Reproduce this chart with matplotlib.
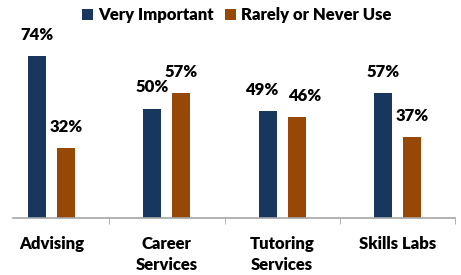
import numpy as np
import matplotlib.pyplot as plt

categories = ['Advising', 'Career\nServices', 'Tutoring\nServices', 'Skills Labs']
very_important = [74, 50, 49, 57]
rarely_use = [32, 57, 46, 37]

navy = '#17375E'
brown = '#974706'
font = 'Lato'
weight = 'heavy'
# small sideways nudges (points) where Excel moved labels apart
nudge_vi = [0, 0, -4.5, 0]
nudge_rn = [0, 0, 6, 0]

fig = plt.figure(figsize=(4.61, 2.75), dpi=100)
ax = fig.add_axes([13 / 461, 57 / 275, 442 / 461, 219 / 275])

x = np.arange(len(categories))
w = 0.156
off = 0.1255
b1 = ax.bar(x - off, very_important, w, color=navy, label='Very Important')
b2 = ax.bar(x + off, rarely_use, w, color=brown, label='Rarely or Never Use')

for bars, vals, nud in [(b1, very_important, nudge_vi), (b2, rarely_use, nudge_rn)]:
    for b, v, n in zip(bars, vals, nud):
        ax.annotate(f'{v}%', (b.get_x() + b.get_width() / 2, v + 9.6), xytext=(n, 0),
                    textcoords='offset points', ha='center', va='center',
                    fontsize=12, fontweight=weight, family=font, annotation_clip=False)

ax.set_yticks([])
ax.set_xticks(np.arange(len(categories) + 1) - 0.5, minor=True)
ax.set_xticks(x)
ax.set_xticklabels(categories, fontsize=12, fontweight=weight, family=font, linespacing=1.35)
ax.tick_params(axis='x', which='major', length=0, pad=13)
ax.tick_params(axis='x', which='minor', length=4, color='#A6A6A6', direction='out')
ax.set_xlim(-0.5 + 19 / 115.5, 3.5)
ax.set_ylim(0, 100)
for s in ['top', 'right', 'left']:
    ax.spines[s].set_visible(False)
ax.spines['bottom'].set_color('#A6A6A6')
ax.spines['bottom'].set_linewidth(1.2)

fig.legend(handles=[b1, b2], loc='center', bbox_to_anchor=(237 / 461, 1 - 15 / 275), ncol=2,
           frameon=False, prop={'family': font, 'weight': weight, 'size': 12},
           handlelength=0.65, handleheight=0.65, handletextpad=0.3, columnspacing=0.7)

fig.savefig('out.png', dpi=100)
